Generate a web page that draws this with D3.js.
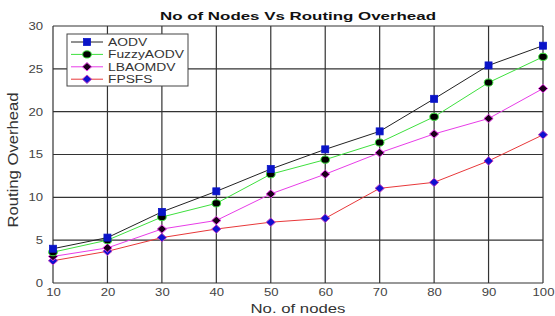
<!DOCTYPE html>
<html>
<head>
<meta charset="utf-8">
<script src="https://cdn.jsdelivr.net/npm/d3@7"></script>
<style>
  body { margin: 0; background: #fff; }
  text { font-family: "Liberation Sans", Arial, sans-serif; }
</style>
</head>
<body>
<svg id="chart" width="555" height="316"></svg>
<script>
// data
const nodes = [10, 20, 30, 40, 50, 60, 70, 80, 90, 100];
const aodv = [4.0, 5.3, 8.3, 10.7, 13.3, 15.6, 17.7, 21.5, 25.4, 27.7];
const fuzzyAodv = [3.6, 5.0, 7.7, 9.3, 12.7, 14.4, 16.4, 19.4, 23.4, 26.4];
const lbaomdv = [3.1, 4.1, 6.3, 7.3, 10.4, 12.7, 15.2, 17.4, 19.2, 22.7];
const fpsfs = [2.6, 3.7, 5.3, 6.3, 7.1, 7.55, 11.05, 11.75, 14.25, 17.3];
const yTicks = [0, 5, 10, 15, 20, 25, 30];

const series = [
  { name: "AODV", values: aodv, line: "#222", shape: "square", fill: "#0a14c8", edge: "#0a14c8" },
  { name: "FuzzyAODV", values: fuzzyAodv, line: "#3ee03e", shape: "circle", fill: "#000", edge: "#3ee03e" },
  { name: "LBAOMDV", values: lbaomdv, line: "#e83ce8", shape: "diamond", fill: "#1a001a", edge: "#e83ce8" },
  { name: "FPSFS", values: fpsfs, line: "#e8383a", shape: "diamond", fill: "#1010d0", edge: "#c040c0" }
];

const svg = d3.select("#chart");
const m = { left: 53, right: 543, top: 26, bottom: 283 };

const x = d3.scaleLinear().domain([10, 100]).range([m.left, m.right]);
const y = d3.scaleLinear().domain([0, 30]).range([m.bottom, m.top]);

// the picture's text is stretched sideways, widen glyphs by a factor
function widen(sel, f) {
  sel.each(function() {
    const w = this.getComputedTextLength();
    d3.select(this).attr("textLength", w * f).attr("lengthAdjust", "spacingAndGlyphs");
  });
}

// grid
svg.append("g").selectAll("line").data(nodes).join("line")
  .attr("x1", d => x(d)).attr("x2", d => x(d))
  .attr("y1", m.top).attr("y2", m.bottom)
  .attr("stroke", "#333").attr("stroke-width", 1.2);
svg.append("g").selectAll("line").data(yTicks).join("line")
  .attr("x1", m.left).attr("x2", m.right)
  .attr("y1", d => y(d)).attr("y2", d => y(d))
  .attr("stroke", "#333").attr("stroke-width", 1.2);

// axes (labels only, frame drawn by the grid)
const xAxis = svg.append("g").attr("transform", `translate(0,${m.bottom})`)
  .call(d3.axisBottom(x).tickValues(nodes).tickSize(0).tickPadding(6));
const yAxis = svg.append("g").attr("transform", `translate(${m.left},0)`)
  .call(d3.axisLeft(y).tickValues(yTicks).tickSize(0).tickPadding(10));
[xAxis, yAxis].forEach(a => {
  a.select(".domain").remove();
  a.selectAll("text").attr("font-family", "Liberation Sans, Arial, sans-serif")
    .attr("font-size", 10.5).attr("fill", "#444")
    .call(widen, 1.25);
});

// titles
svg.append("text").attr("x", 298).attr("y", 19.5).attr("text-anchor", "middle")
  .attr("font-size", 10.5).attr("font-weight", "bold").attr("fill", "#111")
  .attr("textLength", 276).attr("lengthAdjust", "spacingAndGlyphs")
  .text("No of Nodes Vs Routing Overhead");
svg.append("text").attr("x", 298).attr("y", 313).attr("text-anchor", "middle")
  .attr("font-size", 12.5).attr("fill", "#333")
  .attr("textLength", 95).attr("lengthAdjust", "spacingAndGlyphs")
  .text("No. of nodes");
svg.append("text").attr("transform", "translate(18,160) rotate(-90)")
  .attr("text-anchor", "middle").attr("font-size", 14).attr("fill", "#333")
  .attr("textLength", 135).attr("lengthAdjust", "spacingAndGlyphs")
  .text("Routing Overhead");

// markers
function marker(g, s, cx, cy) {
  if (s.shape === "square") {
    g.append("rect").attr("x", cx - 3.5).attr("y", cy - 3.5).attr("width", 7).attr("height", 7)
      .attr("fill", s.fill).attr("stroke", s.edge).attr("stroke-width", 0.8);
  } else if (s.shape === "circle") {
    g.append("ellipse").attr("cx", cx).attr("cy", cy).attr("rx", 4.3).attr("ry", 3.6)
      .attr("fill", s.fill).attr("stroke", s.edge).attr("stroke-width", 1);
  } else {
    g.append("path").attr("d", `M${cx},${cy - 4.2}L${cx + 4.6},${cy}L${cx},${cy + 4.2}L${cx - 4.6},${cy}Z`)
      .attr("fill", s.fill).attr("stroke", s.edge).attr("stroke-width", 1);
  }
}

const line = d3.line().x((d, i) => x(nodes[i])).y(d => y(d));
series.slice().reverse().forEach(s => {
  const g = svg.append("g");
  g.append("path").datum(s.values).attr("d", line)
    .attr("fill", "none").attr("stroke", s.line).attr("stroke-width", 1);
  s.values.forEach((v, i) => marker(g, s, x(nodes[i]), y(v)));
});

// legend
const lg = svg.append("g");
lg.append("rect").attr("x", 67).attr("y", 34).attr("width", 121).attr("height", 52)
  .attr("fill", "#fff").attr("stroke", "#444").attr("stroke-width", 1);
series.forEach((s, i) => {
  const ly = 42 + i * 12.4;
  lg.append("line").attr("x1", 71).attr("x2", 103).attr("y1", ly).attr("y2", ly)
    .attr("stroke", s.line).attr("stroke-width", 1);
  marker(lg, s, 87, ly);
  lg.append("text").attr("x", 108).attr("y", ly + 4).attr("font-size", 10)
    .attr("fill", "#333").text(s.name).call(widen, 1.38);
});
</script>
</body>
</html>
